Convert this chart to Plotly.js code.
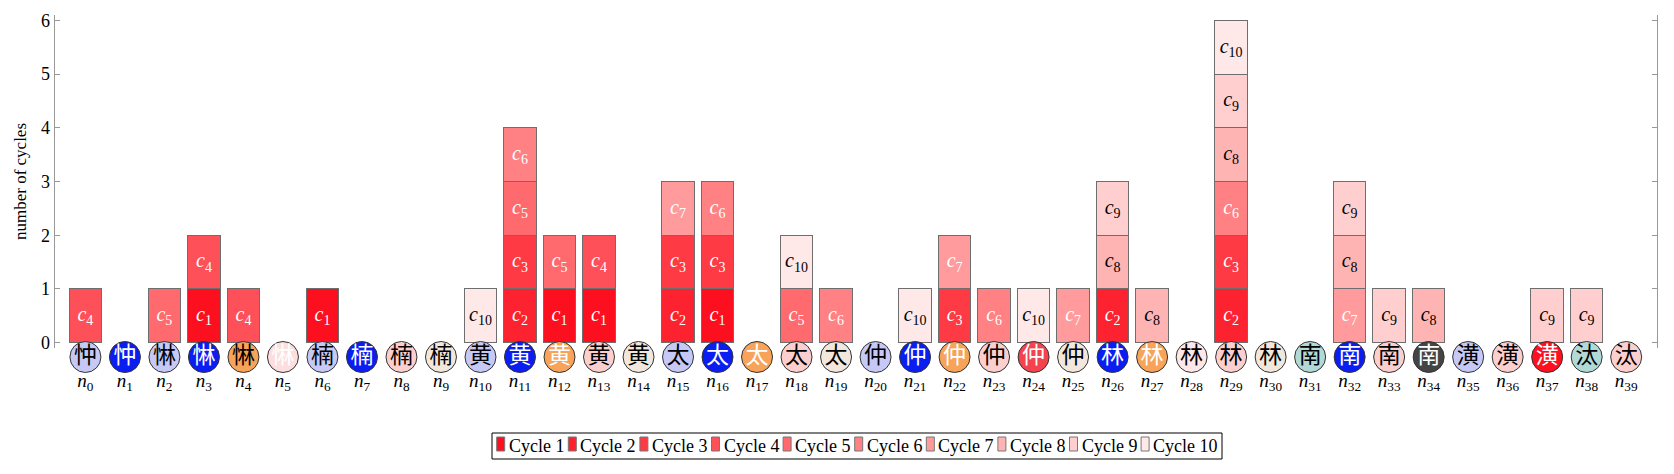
<!DOCTYPE html>
<html>
<head>
<meta charset="utf-8">
<script src="https://cdn.plot.ly/plotly-3.0.1.min.js"></script>
<style>
  html, body { margin: 0; padding: 0; background: #fff; }
  #chart { width: 1674px; height: 474px; }
</style>
</head>
<body>
<div id="chart"></div>
<script>
// nodes n0..n39 and the glyph drawn in each node circle
var nodeIds = [0,1,2,3,4,5,6,7,8,9,10,11,12,13,14,15,16,17,18,19,
               20,21,22,23,24,25,26,27,28,29,30,31,32,33,34,35,36,37,38,39];
var nodeGlyphs = ["忡","忡","惏","惏","惏","惏","楠","楠","楠","楠",
                  "黄","黄","黄","黄","黄","太","太","太","太","太",
                  "仲","仲","仲","仲","仲","仲","林","林","林","林",
                  "林","南","南","南","南","潢","潢","潢","汰","汰"];
// colour class of each node circle
var nodeClass = ["lav","blue","lav","blue","orangeB","pale","lav","blue","pink","beige",
                 "lav","blue","orange","pink","beige","lav","blue","orange","pink","beige",
                 "lav","blue","orange","pink","red","beige","blue","orange","paleB","pink",
                 "beige","teal","blue","pink","dark","lav","pink","redW","teal","pink"];

// nodes that take part in each cycle c1..c10 (one unit of bar height each)
var cycleNames = ["Cycle 1","Cycle 2","Cycle 3","Cycle 4","Cycle 5",
                  "Cycle 6","Cycle 7","Cycle 8","Cycle 9","Cycle 10"];
var cycleNodes = [
  [3, 6, 12, 13, 16],
  [11, 15, 26, 29],
  [11, 15, 16, 22, 29],
  [0, 3, 4, 13],
  [2, 11, 12, 18],
  [11, 16, 19, 23, 29],
  [15, 22, 25, 32],
  [26, 27, 29, 32, 34],
  [26, 29, 32, 33, 37, 38],
  [10, 18, 21, 24, 29]
];
var yTicks = [0, 1, 2, 3, 4, 5, 6];

// styles
var cycleColors = ["#fc0f1f","#fd2230","#fe3a44","#fe5058","#ff6a6e",
                   "#ff8183","#ff9b9c","#ffb4b4","#ffcfcf","#ffe8e8"];
var cycleTextColors = ["#fff","#fff","#fff","#fff","#fff","#fff","#fff","#000","#000","#000"];
var palette = {
  lav:    {fill: "#c6c8f6", text: "#000"},
  blue:   {fill: "#0b1ef2", text: "#fff"},
  orange: {fill: "#f7a35a", text: "#fff"},
  orangeB:{fill: "#f7a35a", text: "#000"},
  pale:   {fill: "#fddede", text: "#fff"},
  paleB:  {fill: "#fde7e7", text: "#000"},
  pink:   {fill: "#fccfcf", text: "#000"},
  beige:  {fill: "#f1e7dc", text: "#000"},
  red:    {fill: "#f2434f", text: "#fff"},
  redW:   {fill: "#fe1020", text: "#fff"},
  teal:   {fill: "#b1d9d6", text: "#000"},
  dark:   {fill: "#444444", text: "#fff"}
};

var serif = "Liberation Serif";
var W = 1674, H = 474;
var M = {l: 55, r: 17, t: 15, b: 107};
var plotW = W - M.l - M.r, plotH = H - M.t - M.b;
var barBottomPx = 348;                       // bottom of the bar panel
var circlePx = 357;                          // centre line of the node circles
var stripPx = H - M.b - barBottomPx;         // thin strip holding the node circles
var split = stripPx / plotH;
var circleRowY = (H - M.b - circlePx) / stripPx;

function px2paperX(px) { return (px - M.l) / plotW; }
function px2paperY(py) { return (H - M.b - py) / plotH; }

var traces = [];
cycleNodes.forEach(function (members, k) {
  traces.push({
    type: "bar",
    name: cycleNames[k],
    x: members,
    y: members.map(function () { return 1; }),
    text: members.map(function () { return "<i>c</i><sub>" + (k + 1) + "</sub>"; }),
    textposition: "inside",
    insidetextanchor: "middle",
    textangle: 0,
    constraintext: "none",
    textfont: {family: serif, size: 20, color: cycleTextColors[k]},
    marker: {color: cycleColors[k], line: {color: "#6e6e6e", width: 1}},
    showlegend: false,
    hoverinfo: "skip"
  });
});

traces.push({
  type: "scatter",
  mode: "markers+text",
  x: nodeIds,
  y: nodeIds.map(function () { return circleRowY; }),
  yaxis: "y2",
  text: nodeGlyphs,
  textposition: "middle center",
  textfont: {
    family: "Noto Sans CJK SC",
    size: 23,
    color: nodeClass.map(function (c) { return palette[c].text; })
  },
  marker: {
    size: 31,
    color: nodeClass.map(function (c) { return palette[c].fill; }),
    line: {color: "#333", width: 1}
  },
  cliponaxis: false,
  showlegend: false,
  hoverinfo: "skip"
});

// legend drawn as a boxed row under the chart
var shapes = [], annotations = [];
var legLeft = 492, legRight = 1222, legTop = 433, legBottom = 459;
var legStart = 496.7, legStep = 71.6;
shapes.push({
  type: "rect", xref: "paper", yref: "paper",
  x0: px2paperX(legLeft), x1: px2paperX(legRight),
  y0: px2paperY(legBottom), y1: px2paperY(legTop),
  line: {color: "#000", width: 1}, fillcolor: "#fff"
});
cycleNames.forEach(function (name, k) {
  var x0 = legStart + k * legStep;
  shapes.push({
    type: "rect", xref: "paper", yref: "paper",
    x0: px2paperX(x0), x1: px2paperX(x0 + 8),
    y0: px2paperY(451), y1: px2paperY(437),
    line: {color: "#777", width: 1}, fillcolor: cycleColors[k]
  });
  annotations.push({
    xref: "paper", yref: "paper",
    x: px2paperX(x0 + 10), y: px2paperY(446),
    xanchor: "left", yanchor: "middle",
    text: name, showarrow: false,
    font: {family: serif, size: 18, color: "#000"}
  });
});

var layout = {
  width: W,
  height: H,
  margin: M,
  paper_bgcolor: "#fff",
  plot_bgcolor: "#fff",
  barmode: "stack",
  bargap: 0.177,
  showlegend: false,
  font: {family: serif, size: 17, color: "#000"},
  xaxis: {
    anchor: "y2",
    range: [-0.77, 39.78],
    tickvals: nodeIds,
    ticktext: nodeIds.map(function (i) { return "<i>n</i><sub>" + i + "</sub>"; }),
    tickfont: {family: serif, size: 19},
    ticks: "",
    ticklabelstandoff: 0,
    showline: false,
    showgrid: false,
    zeroline: false
  },
  yaxis: {
    domain: [split, 1],
    anchor: "x",
    range: [-0.1, 6.1],
    tickvals: yTicks,
    ticks: "inside",
    ticklen: 5,
    tickcolor: "#999",
    showline: true,
    linecolor: "#999",
    linewidth: 1.3,
    mirror: "ticks",
    showgrid: false,
    zeroline: false,
    tickfont: {family: serif, size: 18},
    title: {text: "number of cycles", font: {family: serif, size: 17}, standoff: 10}
  },
  yaxis2: {
    domain: [0, split],
    anchor: "x",
    range: [0, 1],
    visible: false,
    fixedrange: true
  },
  shapes: shapes,
  annotations: annotations
};

Plotly.newPlot("chart", traces, layout, {displayModeBar: false, staticPlot: true});
</script>
</body>
</html>
